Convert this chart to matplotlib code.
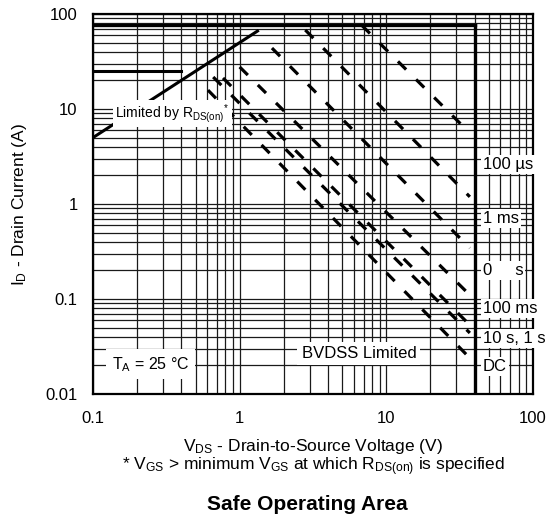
import matplotlib
matplotlib.use('Agg')
import matplotlib.pyplot as plt

# --- data ---
# R_DS(on) limit line (V, A)
rds_v = [0.1, 1.35]
rds_i = [5.0, 67.5]

# package current limit and BVDSS limit
current_limit = 76.0
bvdss = 40.0

# short horizontal limit segment
short_v = [0.1, 0.4]
short_i = [25.0, 25.0]

# dashed pulse lines: start/end in (V, A)
pulse_v0 = [6.8, 2.8, 1.66, 1.0, 0.77, 0.66, 0.608]
pulse_i0 = [76.0, 67.9, 43.8, 27.7, 21.2, 21.7, 15.8]
pulse_v1 = [35.4, 37.1, 37.1, 37.1, 37.1, 37.1, 37.1]
pulse_i1 = [6.0, 1.19, 0.344, 0.110, 0.0532, 0.0439, 0.0239]

# right-side labels (text, current position)
side_labels = ['100 µs', '1 ms', '0     s', '100 ms', '10 s, 1 s', 'DC']
side_label_i = [2.6, 0.70, 0.20, 0.080, 0.0385, 0.0195]

plt.rcParams['font.family'] = 'Liberation Sans'
plt.rcParams['mathtext.fontset'] = 'custom'
plt.rcParams['mathtext.rm'] = 'Liberation Sans'
plt.rcParams['mathtext.it'] = 'Liberation Sans'
plt.rcParams['mathtext.default'] = 'regular'

fig = plt.figure(figsize=(5.56, 5.19), dpi=100)
ax = fig.add_axes([93 / 556, 1 - 394 / 519, 440 / 556, 380 / 519])

ax.set_xscale('log')
ax.set_yscale('log')
ax.set_xlim(0.1, 100)
ax.set_ylim(0.01, 100)

ax.grid(True, which='both', color='#1a1a1a', lw=0.9)
ax.set_axisbelow(True)
for s in ax.spines.values():
    s.set_linewidth(1.6)
    s.set_color('black')

ax.tick_params(which='both', length=0, labelsize=12)
ax.tick_params(axis='x', pad=12)
ax.tick_params(axis='y', pad=11)
ax.set_xticks([0.1, 1, 10, 100])
ax.set_xticklabels(['0.1', '1', '10', '100'])
ax.set_yticks([0.01, 0.1, 1, 10, 100])
ax.set_yticklabels(['0.01', '0.1', '1', '10', '100'])

# thick limit lines
ax.plot([0.1, bvdss], [current_limit, current_limit], color='black', lw=2.4, zorder=3)
ax.plot([bvdss, bvdss], [0.01, current_limit], color='black', lw=2.4, zorder=3)
ax.plot(short_v, short_i, color='black', lw=2.2, zorder=3)
ax.plot(rds_v, rds_i, color='black', lw=2.2, zorder=3, solid_capstyle='butt')

# dashed pulse lines
for x0, y0, x1, y1 in zip(pulse_v0, pulse_i0, pulse_v1, pulse_i1):
    ax.plot([x0, x1], [y0, y1], color='black', lw=2.3,
            linestyle=(0, (3.6, 4.4)), dash_capstyle='butt', zorder=3)

box = dict(facecolor='white', edgecolor='none', pad=1.5)
for txt, yv in zip(side_labels, side_label_i):
    ax.text(45.5, yv, txt, fontsize=12, ha='left', va='center', bbox=box, zorder=5)

ax.text(0.142, 8.9, r'Limited by R$_{DS(on)}$$^{*}$', fontsize=10, ha='left',
        va='center', bbox=dict(facecolor='white', edgecolor='none', pad=1.5), zorder=5)
ax.text(0.248, 0.0205, r'T$_A$ = 25 °C', fontsize=11.5, ha='center', va='center',
        bbox=dict(facecolor='white', edgecolor='none', pad=4), zorder=5)
ax.text(6.5, 0.0265, 'BVDSS Limited', fontsize=12, ha='center', va='center',
        bbox=dict(facecolor='white', edgecolor='none', pad=3), zorder=5)

fig.text(20 / 556, 1 - 205 / 519, r'I$_D$ - Drain Current (A)', rotation=90,
         fontsize=12.5, ha='center', va='center')
fig.text(313 / 556, 1 - 447 / 519, r'V$_{DS}$ - Drain-to-Source Voltage (V)',
         fontsize=12.5, ha='center', va='center')
fig.text(313 / 556, 1 - 467 / 519,
         r'* V$_{GS}$ > minimum V$_{GS}$ at which R$_{DS(on)}$ is specified',
         fontsize=12.5, ha='center', va='center')
fig.text(307 / 556, 1 - 504 / 519, 'Safe Operating Area', fontsize=15,
         fontweight='bold', ha='center', va='center')

fig.savefig('out.png', dpi=100)
